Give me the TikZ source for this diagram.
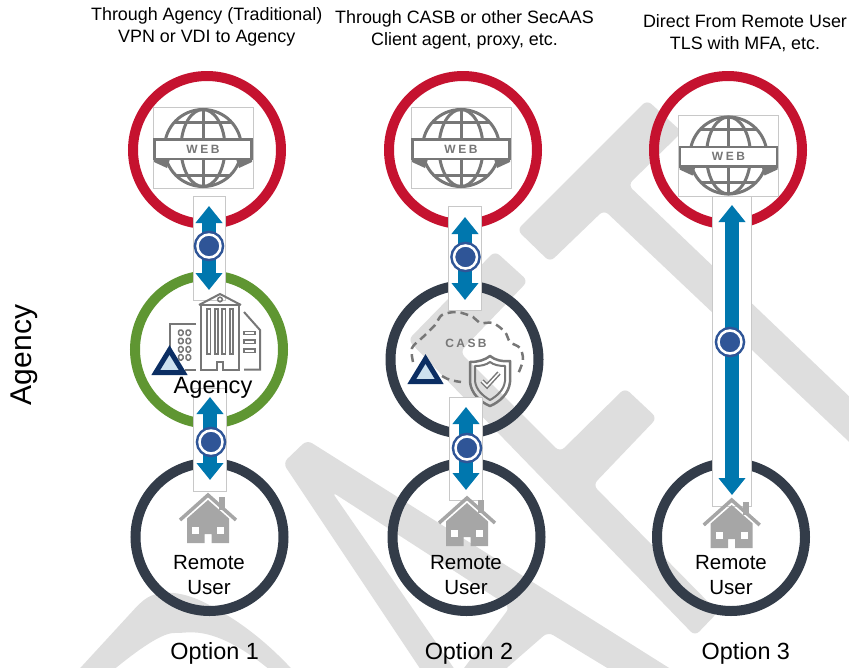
\documentclass[tikz,border=0pt]{standalone}
\usepackage{fontspec}
\setmainfont{Liberation Sans}
\usetikzlibrary{arrows.meta}
\definecolor{webred}{HTML}{C5122F}
\definecolor{agencygreen}{HTML}{5F9632}
\definecolor{userdark}{HTML}{333C49}
\definecolor{flowblue}{HTML}{0077AE}
\definecolor{badgeblue}{HTML}{2F5597}
\definecolor{iconline}{HTML}{777777}
\definecolor{housegray}{HTML}{A6A6A6}
\definecolor{draftgray}{HTML}{DEDEDE}
\definecolor{boxline}{HTML}{C8C8C8}
\definecolor{triline}{HTML}{0B2E63}
\definecolor{trifill}{HTML}{CDE1EF}
\tikzset{
  ring/.style={circle,line width=10pt,minimum size=148pt,inner sep=0pt},
  strip/.style={draw=boxline,fill=white,line width=0.7pt,inner sep=0pt},
  flow/.style={draw=flowblue,line width=14pt,{Triangle[length=17pt,width=26pt]}-{Triangle[length=17pt,width=26pt]}},
  badge/.style={circle,draw=badgeblue,double=white,double distance=2.5pt,line width=2.5pt,fill=badgeblue,minimum size=23pt,inner sep=0pt},
  head/.style={align=center,font=\fontsize{17.9}{22}\selectfont},
  user/.style={align=center,font=\fontsize{20.5}{25.5}\selectfont},
  optlabel/.style={font=\fontsize{23.4}{28}\selectfont},
  draft/.style={fill=draftgray,rounded corners=6pt},
  web/.pic={
    \node[draw=boxline,fill=white,line width=0.7pt,minimum width=100pt,minimum height=81pt,inner sep=0pt] (box) at (0,0) {};
    \draw[iconline,line width=3pt] (0,0) circle (38.5);
    \draw[iconline,line width=3pt] (0,0) ellipse [x radius=22,y radius=38.5];
    \draw[iconline,line width=3pt] (0,-38.5) -- (0,38.5);
    \draw[iconline,line width=3pt] (-28,-26) -- (28,-26);
    \draw[iconline,line width=3pt] (-28,27) -- (28,27);
    \fill[iconline] (-49,11) -- (-49,14) -- (-36,20) -- (-33,11) -- cycle;
    \fill[iconline] (49,11) -- (49,14) -- (36,20) -- (33,11) -- cycle;
    \draw[iconline,fill=white,line width=2.5pt] (-48.5,-8.5) rectangle (48.5,11);
    \node[text=iconline,font=\fontsize{12}{12}\bfseries\addfontfeature{LetterSpace=22}] (label) at (0,1.3) {WEB};
  },
  house/.pic={
    \fill[housegray] (-21,49) -- (-21,24.5) -- (0,6) -- (21,24.5) -- (21,49) -- (3.5,49) -- (3.5,40) -- (-3.5,40) -- (-3.5,49) -- cycle;
    \fill[housegray] (11,3) rectangle (17,16);
    \fill[white] (-16,33) rectangle (-9,40);
    \fill[white] (9,33) rectangle (16,40);
    \draw[housegray,line width=3.5pt] (-28,26) -- (0,1) -- (28,26);
  },
  marker/.pic={
    \draw[triline,fill=trifill,line width=5pt,line join=miter] (0,5) -- (13.7,27.5) -- (-13.7,27.5) -- cycle;
  },
  building/.pic={
    \draw[iconline,line width=2pt] (-19,76) -- (-19,11) -- (19,11) -- (19,76) -- (3.3,76) -- (3.3,68) -- (-3.3,68) -- (-3.3,76) -- cycle;
    \draw[iconline,line width=2pt] (-21,11) -- (0,0) -- (21,11);
    \draw[iconline,line width=1.5pt] (0,5.5) circle (2.3);
    \foreach \cx in {-11.3,-3.7,3.7,11.3} {
      \draw[iconline,line width=1.8pt] (\cx-1.7,15) rectangle (\cx+1.7,60);
    }
    \draw[iconline,line width=2pt] (-24,30) -- (-50,30) -- (-50,60);
    \draw[iconline,line width=2pt] (-35,76) -- (-24,76);
    \foreach \wy in {38.7,47,55.3,63.3} {
      \draw[iconline,line width=1.5pt,rounded corners=1.5pt] (-41.5,\wy-2.7) rectangle (-37,\wy+2.7);
      \draw[iconline,line width=1.5pt,rounded corners=1.5pt] (-34,\wy-2.7) rectangle (-29.5,\wy+2.7);
    }
    \draw[iconline,line width=2pt] (24,18) -- (40,36) -- (40,75.5) -- (24,75.5);
    \foreach \wy in {39,47.7,56.7} {
      \draw[iconline,line width=1.5pt] (24,\wy-1.7) rectangle (35,\wy+1.7);
    }
  },
}
\begin{document}
\begin{tikzpicture}[x=1pt,y=-1pt]
\useasboundingbox (0,0) rectangle (849,667);

% watermark
\begin{scope}
\clip (0,0) rectangle (849,667);
\fill[draft] (647,100) -- (682,132) -- (628,185) -- (900,445) -- (900,490) -- (604,210) -- (550,262) -- (517,230) -- cycle;
\fill[draft] (495,251) -- (528,281) -- (460,352) -- (560,452) -- (625,388) -- (657,418) -- (593,485) -- (718,612) -- (695,636) -- (408,340) -- cycle;
\fill[draft] (283,463) -- (307,440) -- (720,700) -- (660,700) -- (548,632) -- (470,700) -- (440,700) -- (510,607) -- (332,492) -- (480,706) -- (445,706) -- cycle;
\fill[draft] (60,690) -- (140,603) .. controls (160,588) and (185,592) .. (213,607) .. controls (245,625) and (275,648) .. (310,690) -- (292,690) .. controls (250,650) and (215,630) .. (180,633) .. controls (160,633) and (130,655) .. (90,690) -- cycle;
\end{scope}

\node[ring,draw=webred] (web1) at (207,150) {};
\node[ring,draw=webred] (web2) at (463,150) {};
\node[ring,draw=webred] (web3) at (728,150) {};
\node[ring,draw=agencygreen] (agency) at (209,349.5) {};
\node[ring,draw=userdark] (casb) at (464.5,359.5) {};
\node[ring,draw=userdark] (user1) at (209.5,537) {};
\node[ring,draw=userdark] (user2) at (466.5,537) {};
\node[ring,draw=userdark] (user3) at (731,537) {};

\pic (w1) at (203,148) {web};
\pic (w2) at (461,148) {web};
\pic (w3) at (728.5,155.5) {web};

% cloud and shield
\draw[iconline,line width=2.5pt,dash pattern=on 8pt off 5pt] plot[smooth] coordinates {(413,362) (412,348) (423,337) (435,325) (442,315) (457,312) (473,317) (480,323) (493,323) (505,332) (510,342) (520,348) (523,360) (518,374)};
\draw[iconline,line width=2.5pt,dash pattern=on 8pt off 5pt] (442,376) .. controls (448,380) and (454,381) .. (461,382);
\node[text=iconline,font=\fontsize{12}{12}\bfseries\addfontfeature{LetterSpace=20}] (casblabel) at (466,343) {CASB};
\draw[iconline,line width=2.5pt,line join=round] (470,362) .. controls (478,362) and (485,360) .. (490,356) .. controls (495,360) and (502,362) .. (510,361) -- (510,382) .. controls (509,393) and (500,402) .. (490,406) .. controls (480,402) and (471,393) .. (470,382) -- cycle;
\draw[iconline,line width=2pt,line join=round] (475,366) .. controls (481,366) and (486,365) .. (490,362) .. controls (494,365) and (499,366) .. (505,366) -- (505,381) .. controls (504,390) and (497,396) .. (490,400) .. controls (483,396) and (476,390) .. (475,381) -- cycle;
\draw[iconline,double=white,double distance=1.5pt,line width=1.5pt] (482,381) -- (487,386) -- (499,373);

\node[strip,minimum width=32pt,minimum height=104pt] (s1) at (209,248) {};
\node[strip,minimum width=33pt,minimum height=103pt] (s2) at (209.5,440) {};
\node[strip,minimum width=33pt,minimum height=104pt] (s3) at (464.5,258) {};
\node[strip,minimum width=33pt,minimum height=103pt] (s4) at (465.5,448.5) {};
\node[strip,minimum width=39pt,minimum height=310pt] (s5) at (731.5,351) {};

\coordinate (a1top) at (209,206);
\coordinate (a1bot) at (209,290);
\coordinate (a2top) at (210,397);
\coordinate (a2bot) at (210,480);
\coordinate (a3top) at (465,217);
\coordinate (a3bot) at (465,300);
\coordinate (a4top) at (466,407);
\coordinate (a4bot) at (466,490);
\coordinate (a5top) at (732,205);
\coordinate (a5bot) at (732,495);

\path[flow] (a1top) -- (a1bot);
\path[flow] (a2top) -- (a2bot);
\path[flow] (a3top) -- (a3bot);
\path[flow] (a4top) -- (a4bot);
\path[flow] (a5top) -- (a5bot);

\node[badge] (b1) at (209,246) {};
\node[badge] (b2) at (211,442) {};
\node[badge] (b3) at (465.5,257) {};
\node[badge] (b4) at (467,448) {};
\node[badge] (b5) at (730,342) {};

\pic (bld) at (220,294) {building};
\pic (m1) at (169.5,345) {marker};
\pic (m2) at (425.5,354) {marker};
\pic (h1) at (208,494) {house};
\pic (h2) at (467,497) {house};
\pic (h3) at (731.7,499) {house};

\node[font=\fontsize{23.6}{28}\selectfont] (agencytxt) at (213,388) {Agency};
\node[user] (u1) at (209,575) {Remote\\User};
\node[user] (u2) at (466,575) {Remote\\User};
\node[user] (u3) at (731,575) {Remote\\User};

\node[head] (h1txt) at (206.7,26.5) {Through Agency (Traditional)\\VPN or VDI to Agency};
\node[head] (h2txt) at (464.5,30) {Through CASB or other SecAAS\\Client agent, proxy, etc.};
\node[head] (h3txt) at (745,33) {Direct From Remote User\\TLS with MFA, etc.};

\node[optlabel] (o1) at (214.7,653) {Option 1};
\node[optlabel] (o2) at (469,653) {Option 2};
\node[optlabel] (o3) at (745.8,653) {Option 3};
\node[rotate=90,font=\fontsize{30}{32}\selectfont] (side) at (24,355) {Agency};
\end{tikzpicture}
\end{document}
